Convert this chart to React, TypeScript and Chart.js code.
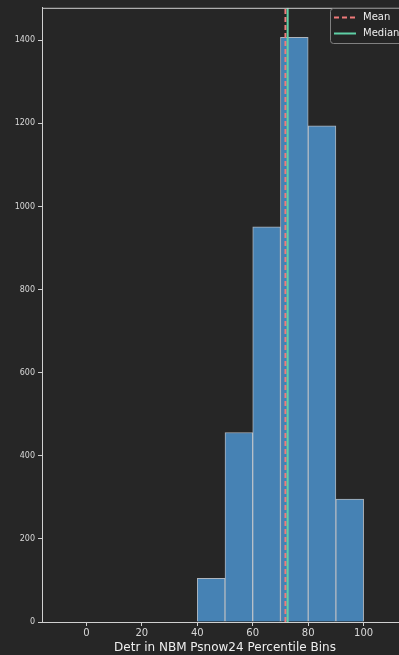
import React, { useEffect, useRef } from "react";
import { Chart, registerables } from "chart.js";

Chart.register(...registerables);

// Histogram bins (width 10) – centers and counts
const binCenters = [-5, 5, 15, 25, 35, 45, 55, 65, 75, 85, 95, 105];
const binCounts = [0, 0, 0, 0, 0, 105, 456, 951, 1407, 1194, 296, 0];
const xTicks = [0, 20, 40, 60, 80, 100];
const yTicks = [0, 200, 400, 600, 800, 1000, 1200, 1400];
const meanValue = 71.8;
const medianValue = 72.6;
const xTitle = "Detr in NBM Psnow24 Percentile Bins";
const seriesLabels = ["Mean", "Median"];

const X_MIN = -16;
const X_MAX = 116;
const Y_MAX = 1478;

const BG = "#262626";
const SPINE = "#d0d0d0";

const frame = {
  id: "frame",
  beforeDraw(chart: any) {
    const ctx = chart.ctx;
    ctx.save();
    ctx.fillStyle = BG;
    ctx.fillRect(0, 0, chart.width, chart.height);
    ctx.restore();
  },
  afterDraw(chart: any) {
    const ctx = chart.ctx;
    const a = chart.chartArea;
    ctx.save();
    ctx.strokeStyle = SPINE;
    ctx.lineWidth = 1;
    ctx.beginPath();
    ctx.moveTo(a.left, a.top + 0.5);
    ctx.lineTo(a.right, a.top + 0.5);
    ctx.moveTo(a.right - 0.5, a.top);
    ctx.lineTo(a.right - 0.5, a.bottom);
    ctx.stroke();

    // legend
    const lx = 330.5;
    const ly = 8.5;
    const lw = 76;
    const lh = 35;
    const r = 3;
    ctx.fillStyle = "rgba(38,38,38,0.85)";
    ctx.strokeStyle = "#808080";
    ctx.lineWidth = 1;
    ctx.beginPath();
    ctx.moveTo(lx + r, ly);
    ctx.lineTo(lx + lw - r, ly);
    ctx.quadraticCurveTo(lx + lw, ly, lx + lw, ly + r);
    ctx.lineTo(lx + lw, ly + lh - r);
    ctx.quadraticCurveTo(lx + lw, ly + lh, lx + lw - r, ly + lh);
    ctx.lineTo(lx + r, ly + lh);
    ctx.quadraticCurveTo(lx, ly + lh, lx, ly + lh - r);
    ctx.lineTo(lx, ly + r);
    ctx.quadraticCurveTo(lx, ly, lx + r, ly);
    ctx.closePath();
    ctx.fill();
    ctx.stroke();

    const ds = chart.data.datasets.filter((d: any) => d.type === "line");
    ds.forEach((d: any, i: number) => {
      const yy = 17.5 + i * 16;
      ctx.strokeStyle = d.borderColor;
      ctx.lineWidth = 2;
      ctx.setLineDash(d.borderDash || []);
      ctx.beginPath();
      ctx.moveTo(334, yy);
      ctx.lineTo(356, yy);
      ctx.stroke();
      ctx.setLineDash([]);
      ctx.fillStyle = "#eeeeee";
      ctx.font = "10px 'DejaVu Sans'";
      ctx.textBaseline = "middle";
      ctx.textAlign = "left";
      ctx.fillText(d.label, 363, yy);
    });
    ctx.restore();
  },
};

export default function App() {
  const ref = useRef<HTMLCanvasElement | null>(null);

  useEffect(() => {
    document.body.style.margin = "0";
    document.body.style.background = BG;
    if (!ref.current) return;
    const chart = new Chart(ref.current, {
      type: "bar",
      data: {
        datasets: [
          {
            type: "line",
            label: seriesLabels[0],
            data: [
              { x: meanValue, y: 0 },
              { x: meanValue, y: Y_MAX },
            ],
            borderColor: "#f07a7a",
            borderDash: [5, 3],
            borderWidth: 2,
            pointRadius: 0,
            order: 1,
          } as any,
          {
            type: "line",
            label: seriesLabels[1],
            data: [
              { x: medianValue, y: 0 },
              { x: medianValue, y: Y_MAX },
            ],
            borderColor: "#5fd0a6",
            borderWidth: 2,
            pointRadius: 0,
            order: 0,
          } as any,
          {
            type: "bar",
            label: "Count",
            data: binCenters.map((c, i) => ({ x: c, y: binCounts[i] })),
            backgroundColor: "#4682b4",
            borderColor: "rgba(220,230,240,0.75)",
            borderWidth: 1,
            barPercentage: 1,
            categoryPercentage: 1,
            order: 2,
          } as any,
        ],
      },
      options: {
        responsive: false,
        animation: false,
        devicePixelRatio: 1,
        layout: { padding: { top: 4, right: 4, left: 0, bottom: 0 } },
        plugins: {
          legend: { display: false },
          tooltip: { enabled: false },
        },
        scales: {
          x: {
            type: "linear",
            offset: false,
            min: X_MIN,
            max: X_MAX,
            afterBuildTicks: (s: any) => {
              s.ticks = xTicks.map((v) => ({ value: v }));
            },
            afterFit: (s: any) => {
              s.height = 33;
            },
            ticks: {
              color: "#d8d8d8",
              font: { family: "DejaVu Sans", size: 10 },
              padding: 1,
              maxRotation: 0,
              callback: (v: any) => String(v),
            },
            grid: {
              display: true,
              offset: false,
              drawOnChartArea: false,
              drawTicks: true,
              tickLength: 4,
              color: SPINE,
            },
            border: { display: true, color: SPINE, width: 1 },
            title: {
              display: true,
              text: xTitle,
              color: "#eeeeee",
              font: { family: "DejaVu Sans", size: 12 },
              padding: 0,
            },
          },
          y: {
            type: "linear",
            min: 0,
            max: Y_MAX,
            afterBuildTicks: (s: any) => {
              s.ticks = yTicks.map((v) => ({ value: v }));
            },
            afterFit: (s: any) => {
              s.width = 42;
            },
            ticks: {
              color: "#d8d8d8",
              font: { family: "DejaVu Sans", size: 8 },
              padding: 3,
              callback: (v: any) => String(v),
            },
            grid: {
              display: true,
              drawOnChartArea: false,
              drawTicks: true,
              tickLength: 4,
              color: SPINE,
            },
            border: { display: true, color: SPINE, width: 1 },
          },
        },
      } as any,
      plugins: [frame],
    });
    return () => chart.destroy();
  }, []);

  return (
    <div
      style={{
        position: "absolute",
        left: 0,
        top: 0,
        width: 399,
        height: 655,
        overflow: "hidden",
        background: BG,
      }}
    >
      <canvas ref={ref} width={412} height={655} style={{ display: "block" }} />
    </div>
  );
}
